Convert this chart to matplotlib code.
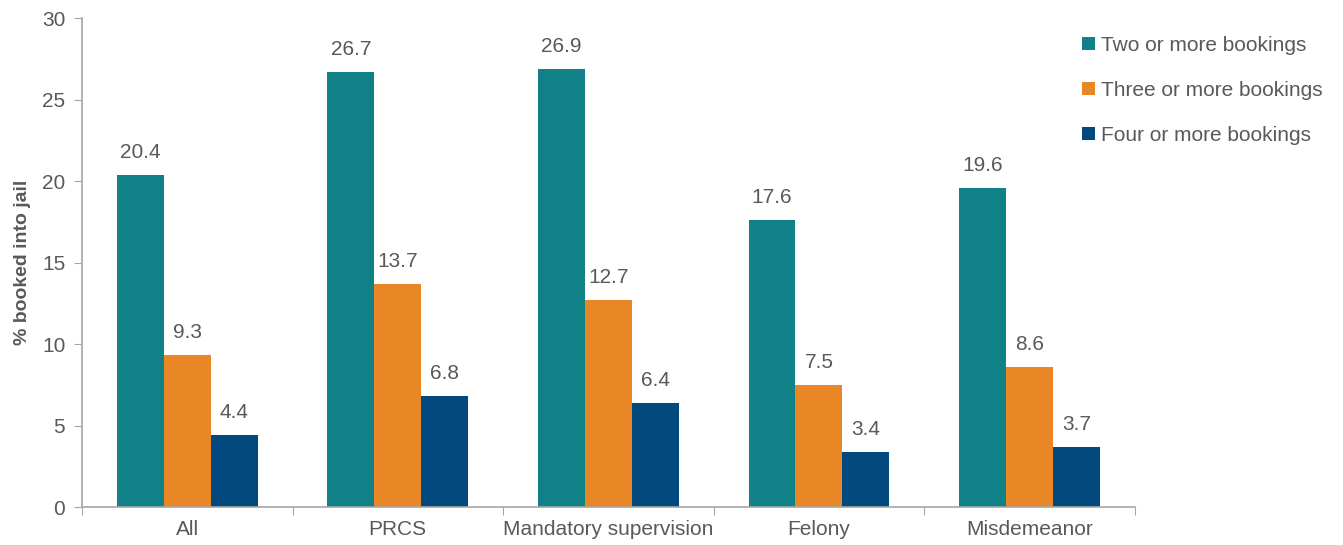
import numpy as np
import matplotlib
matplotlib.use("Agg")
import matplotlib.pyplot as plt

plt.rcParams['font.family'] = ['Liberation Sans', 'DejaVu Sans']

categories = ["All", "PRCS", "Mandatory supervision", "Felony", "Misdemeanor"]
series_names = ["Two or more bookings", "Three or more bookings", "Four or more bookings"]
two_plus = [20.4, 26.7, 26.9, 17.6, 19.6]
three_plus = [9.3, 13.7, 12.7, 7.5, 8.6]
four_plus = [4.4, 6.8, 6.4, 3.4, 3.7]
colors = ["#108187", "#E98626", "#024A7D"]

text_color = "#595959"
axis_color = "#A6A6A6"

fig = plt.figure(figsize=(13.43, 5.45), dpi=100)
ax = fig.add_axes([0.061, 0.0697, 0.784, 0.897])

x = np.arange(len(categories))
width = 0.223
series = [two_plus, three_plus, four_plus]
for i, (vals, name, c) in enumerate(zip(series, series_names, colors)):
    pos = x + (i - 1) * width
    ax.bar(pos, vals, width, color=c, label=name)
    for xb, v in zip(pos, vals):
        ax.text(xb, v + 0.8, f"{v:.1f}", ha="center", va="bottom",
                fontsize=15, color=text_color)

ax.set_xlim(-0.5, len(categories) - 0.5)
ax.set_ylim(0, 30)
ax.set_yticks(range(0, 31, 5))
ax.tick_params(axis='y', labelsize=15, colors=text_color, length=6, color=axis_color, pad=6)
ax.set_xticks(np.arange(-0.5, len(categories), 1.0))
ax.set_xticklabels([])
ax.set_xticks(x, minor=True)
ax.set_xticklabels(categories, minor=True)
ax.tick_params(axis='x', which='major', length=6, color=axis_color)
ax.tick_params(axis='x', which='minor', length=0, labelsize=15, colors=text_color, pad=9)

for s in ["top", "right"]:
    ax.spines[s].set_visible(False)
for s in ["left", "bottom"]:
    ax.spines[s].set_color(axis_color)
    ax.spines[s].set_linewidth(1.2)

ax.set_ylabel("% booked into jail", fontsize=14, fontweight="bold", color=text_color, labelpad=8)

leg = fig.legend(loc="upper left", bbox_to_anchor=(1082 / 1343, 1 - 36 / 545),
                 frameon=False, fontsize=15, handlelength=0.6, handleheight=0.6,
                 handletextpad=0.3, labelspacing=1.25, borderaxespad=0, borderpad=0)
for t in leg.get_texts():
    t.set_color(text_color)

fig.savefig("out.png", dpi=100)
